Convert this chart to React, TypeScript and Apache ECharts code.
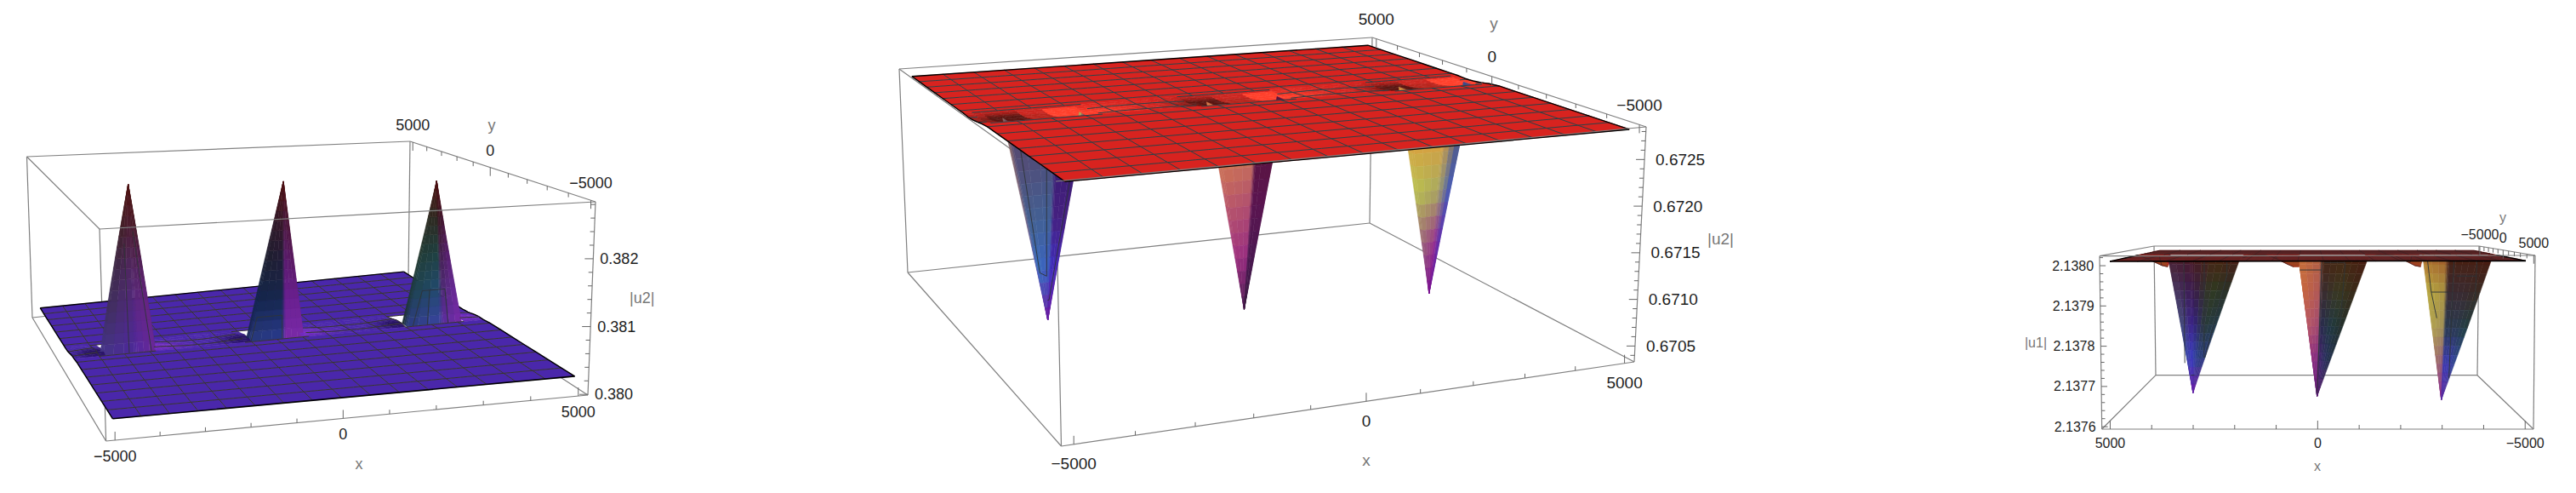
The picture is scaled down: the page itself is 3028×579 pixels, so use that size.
import React, { useEffect, useRef } from "react";
import * as echarts from "echarts";

// ---------- values ----------
const meshXs = [-5000,-4375,-3750,-3125,-2500,-1875,-1250,-625,0,625,1250,1875,2500,3125,3750,4375,5000];
const meshYs = [-5000,-4375,-3750,-3125,-2500,-1875,-1250,-625,0,625,1250,1875,2500,3125,3750,4375,5000];
const tickStepsXY = [-5000,-4000,-3000,-2000,-1000,0,1000,2000,3000,4000,5000];
const labelledXY = [-5000,0,5000];

const p1RowZ = [.38024,.38024,.38024,.38024,.38024,.38024,.38024,.38024,.38022,.38018,.38018,.38018,.38018,.38018,.38018,.38018,.38018];
const p2RowZ = [.67281,.67281,.67281,.67281,.67281,.67281,.67281,.67281,.67279,.67277,.67277,.67277,.67277,.67277,.67277,.67277,.67277];
const p3RowZ = [2.13801,2.13801,2.13801,2.13801,2.13801,2.13801,2.13801,2.13801,2.13801,2.13801,2.13801,2.13801,2.13801,2.13801,2.13801,2.13801,2.13801];

const p1PeakXs = [-3630,0,3820];
const p2PeakXs = [-3830,0,3930];
const p3PeakXs = [3500,0,-3510];
const p1TipZ = [.38284,.38277,.38265];
const p2TipZ = [.67053,.67038,.6703];
const p3TipZ = [2.13761,2.1376,2.13759];

const p1ZTicks = [.38,.3802,.3804,.3806,.3808,.381,.3812,.3814,.3816,.3818,.382,.3822,.3824,.3826,.3828];
const p1ZMajor = [{ v: .38, s: "0.380" }, { v: .381, s: "0.381" }, { v: .382, s: "0.382" }];
const p2ZTicks = [.6704,.6705,.6706,.6707,.6708,.6709,.671,.6711,.6712,.6713,.6714,.6715,.6716,.6717,.6718,.6719,.672,.6721,.6722,.6723,.6724,.6725,.6726,.6727,.6728];
const p2ZMajor = [{ v: .6705, s: "0.6705" }, { v: .671, s: "0.6710" }, { v: .6715, s: "0.6715" }, { v: .672, s: "0.6720" }, { v: .6725, s: "0.6725" }];
const p3ZTicks = [2.1376,2.13762,2.13764,2.13766,2.13768,2.1377,2.13772,2.13774,2.13776,2.13778,2.1378,2.13782,2.13784,2.13786,2.13788,2.1379,2.13792,2.13794,2.13796,2.13798,2.138,2.13802];
const p3ZMajor = [{ v: 2.1376, s: "2.1376" }, { v: 2.1377, s: "2.1377" }, { v: 2.1378, s: "2.1378" }, { v: 2.1379, s: "2.1379" }, { v: 2.138, s: "2.1380" }];

// shape of the low ring round each spike
const ringDx = [-1500,-1200,-800,800,1200,1500];
const ringXAmt = [0,.4,1,1,.4,0];
const ringDy = [-625,-300,0,300,625];
const ringYAmt = [0,.8,1,.6,0];
const shadeDx = [-1900,-1500,-1200,-950,-700,-300,300,700,950,1200,1500,1900];
const p1ShadeX = [0,-.1,-.5,-1,-1,-1,1,1,.8,.55,.3,0];
const p2ShadeX = [.1,-.1,-.4,-.8,-1,-1,1,1,1,.85,.55,.1];
const p3ShadeX = [.3,.6,1,1,1,1,1,1,1,1,.6,.3];
const p1ShadeY = [.7,1,.6,.2,0];
const p2ShadeY = [.5,1,.85,.45,.1];
const p3ShadeY = [0,.1,.6,1,.5];

// spike faces: six ribs, colour from rim (t=0) to tip (t=1)
const frontRibs = [[-650,100],[-650,-250],[120,-250],[220,-250],[650,-250],[650,100]];
const p2Ribs = [[-700,100],[-700,-250],[120,-250],[220,-250],[700,-250],[700,100]];
const rearRibs = [[650,0],[650,625],[60,625],[-60,625],[-650,625],[-1300,625]];

const p1Spikes = [
  ["#45358a #403060 #3c2a48 #402028 #4d1010","#45358a #403060 #3c2a48 #402028 #4d1010","#4c289a #522884 #522664 #4e1e34 #4d1010","#5428a0 #5c2886 #522660 #481c2c #4d1010","#6a2898 #6a2488 #55205f #481a28 #4d1010","#23304a #1e3040 #202c30 #2a2020 #4d1010"],
  ["#16224a #14264e #1c2030 #301828 #4d1010","#2a3a80 #14264e #1c2030 #301828 #4d1010","#2a3a90 #16284e #201c38 #3a1628 #4d1010","#7a2aa8 #6a2090 #5a1a70 #4a1a40 #4d1010","#7a2aa8 #6a2090 #5a1a60 #4a1530 #4d1010","#7a2aa8 #6a2090 #5a1a60 #4a1530 #4d1010"],
  ["#1e3028 #1e3a38 #203428 #2c2a20 #4d1010","#2c3a80 #1f4450 #203c38 #2c2a20 #4d1010","#3a44a0 #224a70 #1f4040 #302820 #4d1010","#5a2ca0 #4a2a70 #40204a #3a1820 #4d1010","#7a2aa8 #6a2a98 #5a2070 #451830 #4d1010","#7a2aa8 #6a2a98 #5a2070 #451830 #4d1010"],
];
const p2Spikes = [
  ["#9a6a58 #8a6a70 #8a6a80 #5a50b0 #6a1aa0","#5a4468 #52507a #466090 #3a70c0 #6a1aa0","#50406a #4a5080 #3f6098 #3a58c0 #6a1aa0","#3c1c70 #3c1c74 #452080 #3a30c0 #6a1aa0","#3c1c70 #3c1c74 #452080 #4a2ab8 #6a1aa0","#c8c050 #c8b860 #b06080 #7a30a0 #6a1aa0"],
  ["#d87848 #d27a4e #b8566a #9e3080 #4a1a50","#d87848 #d27a4e #b8566a #9e3080 #4a1a50","#d07850 #c87458 #b04e70 #962c80 #4a1a50","#5a1440 #5a1440 #5a1450 #4a1850 #3a1a40","#5a1440 #5a1440 #5a1450 #4a1850 #3a1a40","#5a1440 #5a1440 #5a1450 #4a1850 #3a1a40"],
  ["#d08840 #d8a040 #b8c050 #9a6478 #7a1090","#d08840 #d8a040 #b8c050 #9a6478 #7a1090","#d08840 #d8a040 #a8a860 #9a3a88 #7a1090","#c88848 #d09c48 #a0a068 #9a3090 #7a1090","#3a4a8a #3a5090 #3a50c0 #5a30b0 #7a1090","#3a4a8a #3a5090 #3a50c0 #5a30b0 #7a1090"],
];
const p3Spikes = [
  ["#4a2030 #4a3a60 #47507a #3a48a8 #6a20a8","#4a2030 #4a3a60 #47507a #3a48a8 #6a20a8","#4a1820 #3a1a50 #3a2088 #3838c0 #6a20a8","#4a1c1c #3a1c48 #342080 #3440b0 #6a20a8","#4a2510 #303a20 #2a3a38 #2a4080 #6a20a8","#4a1a14 #2a3028 #223a48 #2a3a80 #6a20a8"],
  ["#c8713a #c8683e #b85868 #8a2a80 #5a1a70","#c8713a #c8683e #b85868 #8a2a80 #5a1a70","#b06040 #b05858 #a04870 #802a80 #5a1a70","#4a2510 #3a2a30 #2a2a50 #4a2070 #5a1a70","#4a2510 #3a3a20 #203a40 #2a3060 #5a1a70","#4a1a10 #3a2818 #243028 #203048 #5a1a70"],
  ["#b0702f #b8a840 #b0a050 #a06a70 #8a2a90","#b0702f #b8a840 #b0a050 #a06a70 #8a2a90","#a05a2a #a89040 #a09058 #905a78 #8a2a90","#4a2010 #3a2a30 #2a3a50 #3a3ab0 #5a2aa0","#4a2010 #3a2a30 #2a3a50 #3a3ab0 #5a2aa0","#4a1a10 #3a2a20 #204040 #304a90 #5a2aa0"],
];
// mesh lines on each spike: polylines of [rim offset, level]
const p1SpikeMesh = [
  [[[0,0],[-300,.65]],[[550,0],[350,.72]]],
  [[[-640,0],[-600,.15],[120,.15],[130,0]]],
  [[[-520,0],[-410,.24],[320,.24],[330,0]],[[-170,0],[-170,.24]]],
];
const p2SpikeMesh = [
  [[[-560,.03],[-600,.76],[-80,.78],[-10,.1]],[[-40,.9],[250,.9],[620,.1]]],
  [],
  [[[-300,.05],[-350,.25],[-80,.22],[0,.03]],[[-200,.03],[300,.03]]],
];
const p3SpikeMesh = [
  [[[225,0],[1020,.78]],[[460,.87],[-300,.87]],[[-316,0],[-1200,.74]],[[-925,0],[-1075,.14],[-1290,.74]]],
  [[[665,.1],[0,.1]],[[0,0],[0,.98]],[[-70,.05],[-680,.05]],[[-684,.05],[-1250,.55]]],
  [[[580,.03],[555,.25],[400,.43]],[[555,.25],[-110,.25]],[[-190,0],[-1250,.85]],[[-337,.14],[-988,.14]],[[-850,0],[-1200,.3],[-1280,.5]]],
];

// ---------- layout and styling ----------
const EXT = 5200;
type Pt = [number, number];
type Panel = any;
const panels: Panel[] = [
  {
    bottom: [[124.6,518],[691,464],[480,327],[38,373]], top: [[117,269],[700,237],[482,166],[31.5,184]],
    zMin: .37999, zMax: .38284, frontY: -1, rightX: 1, rowZ: p1RowZ, peaks: p1PeakXs, tips: p1TipZ, ringDepth: .00004,
    base: "#4a27ab", dark: "#23105a", bright: "#7a2cc4", mesh: "#38362c", meshW: 1, shadeX: p1ShadeX, shadeY: p1ShadeY,
    ribs: frontRibs, spikes: p1Spikes, fpMin: -650, fpMax: 650, sMesh: p1SpikeMesh, bandLo: -250, bandHi: 1000,
    zTicks: p1ZTicks, zMajor: p1ZMajor, font: 18, xOff: 19, yOff: -20, zOff: 8, zSide: 1,
    xLabel: [422,545], yLabel: [578,147], zLabel: [740,350], zName: "|u2|", zTickMajor: 10, zTickMinor: 5, farEdge: 1.4,
  },
  {
    bottom: [[1247.5,524],[1921,425],[1610,262],[1067,320]], top: [[1241,213],[1935,149],[1613,44],[1057,81]],
    zMin: .67033, zMax: .67285, frontY: -1, rightX: 1, rowZ: p2RowZ, peaks: p2PeakXs, tips: p2TipZ, ringDepth: -.00002,
    base: "#d8231f", dark: "#5a1510", bright: "#ff3f2a", mesh: "#2a4248", meshW: 1, shadeX: p2ShadeX, shadeY: p2ShadeY,
    ribs: p2Ribs, spikes: p2Spikes, fpMin: -900, fpMax: 900, sMesh: p2SpikeMesh, hole: true, bandLo: -250, bandHi: 1000,
    zTicks: p2ZTicks, zMajor: p2ZMajor, font: 19, xOff: 23, yOff: -23, zOff: 13, zSide: 1,
    xLabel: [1606,540], yLabel: [1756,27], zLabel: [2007,280], zName: "|u2|", zTickMajor: 10, zTickMinor: 5, farEdge: 1.4,
  },
  {
    bottom: [[2912,440.7],[2534,440.7],[2470.7,504],[2978,504]], top: [[2914,289],[2532,289],[2468,300.7],[2980,300]],
    zMin: 2.137594, zMax: 2.138024, frontY: 1, rightX: -1, rowZ: p3RowZ, peaks: p3PeakXs, tips: p3TipZ, ringDepth: -.000034,
    base: "#b5201c", dark: "#b5201c", bright: "#9a4a22", mesh: "#3a2426", meshW: 0.7, shadeX: p3ShadeX, shadeY: p3ShadeY,
    ribs: rearRibs, spikes: p3Spikes, fpMin: -1300, fpMax: 650, sMesh: p3SpikeMesh, bandLo: -625, bandHi: 625,
    zTicks: p3ZTicks, zMajor: p3ZMajor, font: 16, xOff: 16, yOff: -14, zOff: -7, zSide: -1,
    xLabel: [2724,547], yLabel: [2942,255], zLabel: [2393,402], zName: "|u1|", zTickMajor: 7, zTickMinor: 4, farEdge: 0.5,
  },
];
const FRAME = "#808080";
const TICK = "#666666";
const LABEL = "#1e1e1e";
const NAME = "#777777";
const SPIKE_MESH = "#2e3438";
const FONT = "'Liberation Sans', Arial, sans-serif";
const BAND_STEP = 156.25;

// ---------- helpers ----------
function homography(q: Pt[]) {
  const [q0, q1, q2, q3] = q;
  const dx1 = q1[0] - q2[0], dx2 = q3[0] - q2[0], sx = q0[0] - q1[0] + q2[0] - q3[0];
  const dy1 = q1[1] - q2[1], dy2 = q3[1] - q2[1], sy = q0[1] - q1[1] + q2[1] - q3[1];
  const den = dx1 * dy2 - dx2 * dy1;
  const g = (sx * dy2 - dx2 * sy) / den, h = (dx1 * sy - sx * dy1) / den;
  const a = q1[0] - q0[0] + g * q1[0], b = q3[0] - q0[0] + h * q3[0], c = q0[0];
  const d = q1[1] - q0[1] + g * q1[1], e = q3[1] - q0[1] + h * q3[1], f = q0[1];
  return (u: number, v: number): Pt => {
    const w = g * u + h * v + 1;
    return [(a * u + b * v + c) / w, (d * u + e * v + f) / w];
  };
}
function lerpTable(xs: number[], ys: number[], x: number) {
  if (x <= xs[0]) return ys[0];
  for (let i = 1; i < xs.length; i++) {
    if (x <= xs[i]) return ys[i - 1] + (ys[i] - ys[i - 1]) * (x - xs[i - 1]) / (xs[i] - xs[i - 1]);
  }
  return ys[ys.length - 1];
}
function rgb(h: string) { return [1, 3, 5].map((i) => parseInt(h.slice(i, i + 2), 16)); }
function toHex(c: number[]) { return "#" + c.map((v) => Math.max(0, Math.min(255, Math.round(v))).toString(16).padStart(2, "0")).join(""); }
function mix(a: number[], b: number[], t: number) { return a.map((v, i) => v + (b[i] - v) * t); }

function buildPanel(p: Panel) {
  const prims: any[] = [];
  const hb = homography(p.bottom), ht = homography(p.top);
  const proj = (x: number, y: number, z: number): Pt => {
    const u = (x + EXT) / (2 * EXT), v = (y + EXT) / (2 * EXT);
    const t = (z - p.zMin) / (p.zMax - p.zMin);
    const a = hb(u, v), b = ht(u, v);
    return [a[0] + (b[0] - a[0]) * t, a[1] + (b[1] - a[1]) * t];
  };
  const poly = (pts: Pt[], fill: string) => prims.push({ k: "poly", pts, fill });
  const line = (pts: Pt[], stroke: string, lw: number) => { if (pts.length > 1) prims.push({ k: "line", pts, stroke, lw }); };
  const text = (at: Pt, s: string, size: number, fill: string, align: string) => prims.push({ k: "text", at, s, size, fill, align });

  const lo: number = p.bandLo, hi: number = p.bandHi;
  const isBand = (y: number) => y >= lo && y <= hi;
  const norm = (y: number) => ((y - lo) / (hi - lo)) * 1250 - 625;
  const nearestDx = (x: number) => {
    let best = 1e9;
    for (const c of p.peaks) if (Math.abs(x - c) < Math.abs(best)) best = x - c;
    return best;
  };
  const surfZ = (x: number, y: number) => {
    let z = lerpTable(meshYs, p.rowZ, y);
    if (isBand(y)) z += p.ringDepth * lerpTable(ringDx, ringXAmt, nearestDx(x)) * lerpTable(ringDy, ringYAmt, norm(y));
    return z;
  };
  const inHole = (x: number, y: number) => {
    const dx = nearestDx(x);
    return y > lo + 1 && y < hi - 1 && dx > p.fpMin && dx < p.fpMax;
  };
  const baseC = rgb(p.base), darkC = rgb(p.dark), brightC = rgb(p.bright);
  const bandColor = (x: number, y: number) => {
    const dx = nearestDx(x), ny = norm(y);
    if (p.hole && inHole(x, y)) {
      // inside the opening one sees the far wall of the spike
      if (dx < -300) return toHex(mix(baseC, darkC, ny < 100 ? 1 : Math.max(0, (625 - ny) / 525)));
      if (dx < 300) return ny < 100 ? "#b8241c" : "#cc2620";
      return toHex(ny < 500 ? brightC : baseC);
    }
    const s = lerpTable(shadeDx, p.shadeX, dx) * lerpTable(ringDy, p.shadeY, ny);
    return toHex(s < 0 ? mix(baseC, darkC, -s) : mix(baseC, brightC, s));
  };

  // far-to-near y order
  const toNear = (y: number) => y * p.frontY; // larger = nearer
  const rowSet = new Set<number>([0]);
  meshYs.forEach((y) => { if (!isBand(y)) rowSet.add(y); });
  for (let y = lo; y <= hi + 0.01; y += BAND_STEP) rowSet.add(y);
  const yRowsAll = Array.from(rowSet).sort((a, b) => toNear(a) - toNear(b));

  const xFine: number[] = [];
  for (let x = -5000; x <= 5000; x += BAND_STEP) xFine.push(x);

  const edges = (nearPart: boolean) => {
    const rows = yRowsAll.filter((y) => (nearPart ? toNear(y) >= 0 : toNear(y) <= 0));
    const w = nearPart ? 1.4 : p.farEdge;
    for (const x of [-5000, 5000]) line(rows.map((y) => proj(x, y, surfZ(x, y))), "#000000", w);
    const yEdge = nearPart ? 5000 * p.frontY : -5000 * p.frontY;
    line([proj(-5000, yEdge, surfZ(-5000, yEdge)), proj(5000, yEdge, surfZ(5000, yEdge))], "#000000", nearPart ? 1.6 : w);
  };
  const rimLine = (y: number) => {
    if (meshYs.includes(y)) return;
    let run: Pt[] = [];
    for (const x of xFine) {
      const dx = nearestDx(x);
      if (dx > p.fpMin - 160 && dx < p.fpMax + 160) run.push(proj(x, y, surfZ(x, y)));
      else { line(run, p.mesh, p.meshW); run = []; }
    }
    line(run, p.mesh, p.meshW);
  };
  const meshLines = (nearPart: boolean) => {
    const rows = yRowsAll.filter((y) => (nearPart ? toNear(y) >= 0 : toNear(y) <= 0));
    for (const x of meshXs.slice(1, -1)) {
      let run: Pt[] = [];
      for (const y of rows) {
        if (inHole(x, y)) { line(run, p.mesh, p.meshW); run = []; continue; }
        run.push(proj(x, y, surfZ(x, y)));
      }
      line(run, p.mesh, p.meshW);
    }
    for (const y of meshYs.slice(1, -1)) {
      if (nearPart ? toNear(y) < 0 : toNear(y) >= 0) continue;
      let run: Pt[] = [];
      for (const x of xFine) {
        if (inHole(x, y)) { line(run, p.mesh, p.meshW); run = []; continue; }
        run.push(proj(x, y, surfZ(x, y)));
      }
      line(run, p.mesh, p.meshW);
    }
    rimLine(nearPart ? (p.frontY < 0 ? lo : hi) : (p.frontY < 0 ? hi : lo));
  };
  const cell = (x0: number, x1: number, y0: number, y1: number, fill: string) =>
    poly([proj(x0, y0, surfZ(x0, y0)), proj(x1, y0, surfZ(x1, y0)), proj(x1, y1, surfZ(x1, y1)), proj(x0, y1, surfZ(x0, y1))], fill);
  const surfacePart = (nearPart: boolean) => {
    const rows = yRowsAll.filter((y) => (nearPart ? toNear(y) >= 0 : toNear(y) <= 0));
    for (let j = 0; j < rows.length - 1; j++) {
      const y0 = rows[j], y1 = rows[j + 1];
      const band = isBand(y0) && isBand(y1);
      const xs = band ? xFine : meshXs;
      for (let i = 0; i < xs.length - 1; i++) {
        const x0 = xs[i], x1 = xs[i + 1], xm = (x0 + x1) / 2, ym = (y0 + y1) / 2;
        if (band && !p.hole && inHole(xm, ym)) continue;
        cell(x0, x1, y0, y1, band ? bandColor(xm, ym) : p.base);
      }
    }
  };

  // back frame
  const c = (sx: number, sy: number, top: boolean): Pt => proj(sx * EXT, sy * EXT, top ? p.zMax : p.zMin);
  const far = -p.frontY, near = p.frontY, right = p.rightX, left = -p.rightX;
  const seg = (a: Pt, b: Pt) => line([a, b], FRAME, 1.2);
  seg(c(left, far, false), c(right, far, false));
  seg(c(left, far, true), c(right, far, true));
  seg(c(left, far, false), c(left, far, true));
  seg(c(right, far, false), c(right, far, true));
  seg(c(left, near, false), c(left, far, false));
  seg(c(right, near, false), c(right, far, false));
  seg(c(left, near, true), c(left, far, true));
  seg(c(right, near, true), c(right, far, true));
  seg(c(left, near, false), c(left, near, true));

  surfacePart(false);
  meshLines(false);
  edges(false);
  if (p.hole) surfacePart(true);

  // spikes
  const nearRim = p.frontY < 0 ? lo : hi;
  const rim = lerpTable(meshYs, p.rowZ, nearRim);
  const drawRibs = (cx: number, tip: number, ribs: number[][], colorAt: (r: number, t: number) => number[], order: number[], rows: number) => {
    const pos = (r: number, w: number, t: number): Pt => {
      const a = ribs[r], b = ribs[r + 1];
      const dx = a[0] + (b[0] - a[0]) * w, dy = a[1] + (b[1] - a[1]) * w;
      return proj(cx + dx * (1 - t), dy * (1 - t), rim + (tip - rim) * t);
    };
    for (const r of order) {
      for (let i = 0; i < rows; i++) {
        const t0 = i / rows, t1 = (i + 1) / rows;
        const cols = 3;
        for (let k = 0; k < cols; k++) {
          const w0 = k / cols, w1 = (k + 1) / cols, wm = (w0 + w1) / 2, tm = (t0 + t1) / 2;
          const col = mix(colorAt(r, tm), colorAt(r + 1, tm), wm);
          poly([pos(r, w0, t0), pos(r, w1, t0), pos(r, w1, t1), pos(r, w0, t1)], toHex(col));
        }
      }
    }
  };
  p.peaks.forEach((cx: number, i: number) => {
    const table = p.spikes[i].map((row: string) => row.split(" ").map(rgb));
    const colorAt = (r: number, t: number) => {
      const f = t * 4, n = Math.min(3, Math.floor(f));
      return mix(table[r][n], table[r][n + 1], f - n);
    };
    drawRibs(cx, p.tips[i], p.ribs, colorAt, [0, 4, 1, 2, 3], 16);
    const dyRim = p.ribs[2][1];
    for (const run of p.sMesh[i]) {
      line(run.map(([d, t]: number[]) => proj(cx + d * (1 - t), dyRim * (1 - t), rim + (p.tips[i] - rim) * t)), SPIKE_MESH, 0.9);
    }
  });

  if (!p.hole) surfacePart(true);
  else {
    // the part of the sheet in front of the spikes closes over them again
    const rows = [nearRim, ...meshYs.filter((y) => toNear(y) > toNear(nearRim))].sort((a, b) => toNear(a) - toNear(b));
    for (let j = 0; j < rows.length - 1; j++) {
      for (let i = 0; i < meshXs.length - 1; i++) cell(meshXs[i], meshXs[i + 1], rows[j], rows[j + 1], p.base);
    }
  }
  meshLines(true);
  edges(true);

  // front frame
  seg(c(left, near, false), c(right, near, false));
  seg(c(left, near, true), c(right, near, true));
  seg(c(right, near, false), c(right, near, true));
  const ln = (a: Pt, b: Pt) => line([a, b], TICK, 1);

  // x axis
  for (const v of tickStepsXY) {
    const a = proj(v, near * EXT, p.zMin);
    const major = labelledXY.includes(v);
    ln(a, [a[0], a[1] - (major ? 10 : 5)]);
    if (major) text([a[0], a[1] + p.xOff], v < 0 ? "\u2212" + -v : String(v), p.font, LABEL, "center");
  }
  // y axis along the upper right edge
  const yEdgeX = right * EXT;
  for (const v of tickStepsXY) {
    const a = proj(yEdgeX, v, p.zMax);
    const major = labelledXY.includes(v);
    ln(a, [a[0], a[1] + (major ? 10 : 5)]);
    if (major) text([a[0], a[1] + p.yOff], v < 0 ? "\u2212" + -v : String(v), p.font, LABEL, "center");
  }
  // z axis
  const zEdgeX = (p.zSide > 0 ? right : left) * EXT;
  for (const v of p.zTicks) {
    const a = proj(zEdgeX, near * EXT, v);
    const major = p.zMajor.some((m: any) => Math.abs(m.v - v) < 1e-7);
    const len = major ? p.zTickMajor : p.zTickMinor;
    ln(a, [a[0] - p.zSide * len, a[1]]);
  }
  for (const m of p.zMajor) {
    const a = proj(zEdgeX, near * EXT, m.v);
    text([a[0] + p.zOff, a[1]], m.s, p.font, LABEL, p.zSide > 0 ? "left" : "right");
  }
  text(p.xLabel, "x", p.font, NAME, "center");
  text(p.yLabel, "y", p.font, NAME, "center");
  text(p.zLabel, p.zName, p.font, NAME, p.zSide > 0 ? "left" : "center");
  return prims;
}

function seriesFor(p: Panel) {
  const prims = buildPanel(p);
  return {
    type: "custom",
    coordinateSystem: "cartesian2d",
    clip: false,
    silent: true,
    progressive: 0,
    animation: false,
    encode: { x: 0, y: 1 },
    data: prims.map((_, i) => [0, 0, i]),
    renderItem: (params: any, api: any) => {
      const m = prims[params.dataIndex];
      const map = (q: Pt) => api.coord(q);
      if (m.k === "poly") {
        return { type: "polygon", shape: { points: m.pts.map(map) }, style: { fill: m.fill, stroke: m.fill, lineWidth: 0.5 } };
      }
      if (m.k === "line") {
        return { type: "polyline", shape: { points: m.pts.map(map) }, style: { fill: "none", stroke: m.stroke, lineWidth: m.lw } };
      }
      const at = map(m.at);
      return { type: "text", style: { x: at[0], y: at[1], text: m.s, fill: m.fill, fontSize: m.size, fontFamily: FONT, align: m.align, verticalAlign: "middle" } };
    },
  };
}

export default function App() {
  const ref = useRef<HTMLDivElement>(null);
  useEffect(() => {
    document.body.style.margin = "0";
    const chart = echarts.init(ref.current!, undefined, { renderer: "svg" });
    chart.setOption({
      animation: false,
      backgroundColor: "#ffffff",
      grid: { left: 0, top: 0, width: 3028, height: 579, containLabel: false },
      xAxis: { type: "value", min: 0, max: 3028, show: false },
      yAxis: { type: "value", min: 0, max: 579, inverse: true, show: false },
      tooltip: { show: false },
      series: panels.map(seriesFor),
    });
    return () => chart.dispose();
  }, []);
  return <div ref={ref} style={{ width: 3028, height: 579 }} />;
}
